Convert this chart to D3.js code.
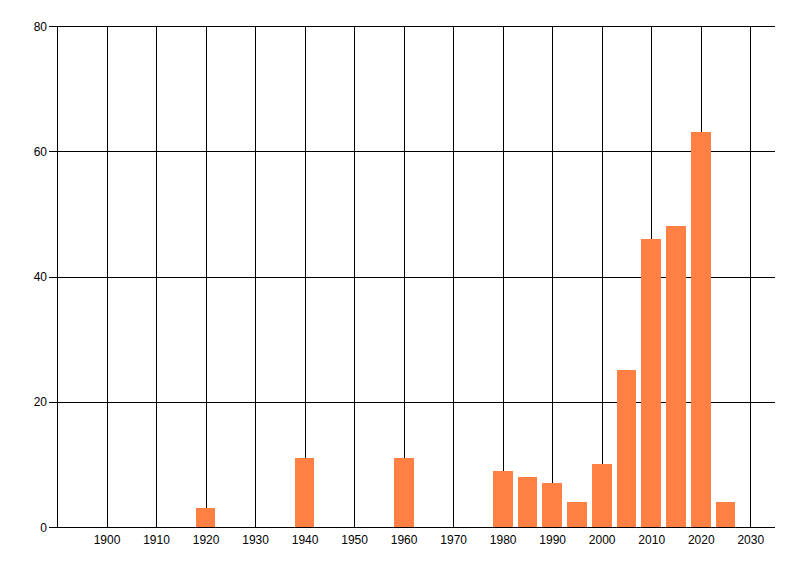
<!DOCTYPE html>
<html>
<head>
<meta charset="utf-8">
<script src="https://cdn.jsdelivr.net/npm/d3@7/dist/d3.min.js"></script>
<style>
  html, body { margin: 0; padding: 0; background: #fff; }
  svg text { font-family: "Liberation Sans", Arial, sans-serif; font-size: 12px; fill: #000; }
  svg line, svg rect { shape-rendering: crispEdges; }
</style>
</head>
<body>
<div id="chart"></div>
<script>
// bar data: year and count
const years  = [1920, 1940, 1960, 1980, 1985, 1990, 1995, 2000, 2005, 2010, 2015, 2020, 2025];
const counts = [3, 11, 11, 9, 8, 7, 4, 10, 25, 46, 48, 63, 4];

const xTicks = [1900, 1910, 1920, 1930, 1940, 1950, 1960, 1970, 1980, 1990, 2000, 2010, 2020, 2030];
const yTicks = [0, 20, 40, 60, 80];

const width = 800, height = 576;
const plotLeft = 57, plotRight = 775, plotTop = 26, plotBottom = 527;
const barYears = 4;

const svg = d3.select("#chart").append("svg")
  .attr("width", width)
  .attr("height", height);

const x = d3.scaleLinear().domain([1890, 2035]).range([plotLeft, plotRight]);
const y = d3.scaleLinear().domain([0, 80]).range([plotBottom, plotTop]);

// horizontal grid + left ticks
const yAxis = svg.append("g")
  .attr("transform", `translate(${plotLeft},0)`)
  .call(d3.axisLeft(y).tickValues(yTicks).tickSize(-(plotRight - plotLeft)).tickSizeOuter(0));
yAxis.select(".domain").remove();
yAxis.selectAll(".tick line")
  .attr("x1", -8)
  .attr("stroke", "#000");
yAxis.selectAll(".tick text").attr("x", -10).attr("dy", "0.35em");

// vertical grid
const xAxis = svg.append("g")
  .attr("transform", `translate(0,${plotBottom})`)
  .call(d3.axisBottom(x).tickValues(xTicks).tickFormat(d3.format("d")).tickSize(-(plotBottom - plotTop)).tickSizeOuter(0));
xAxis.select(".domain").remove();
xAxis.selectAll(".tick line").attr("stroke", "#000");
xAxis.selectAll(".tick text").attr("y", 8).attr("dy", "0.71em");

// left axis line
svg.append("line")
  .attr("x1", plotLeft + 0.5).attr("x2", plotLeft + 0.5)
  .attr("y1", plotTop).attr("y2", plotBottom)
  .attr("stroke", "#000");

// bars
svg.append("g").selectAll("rect")
  .data(years)
  .join("rect")
  .attr("x", (d) => x(d - barYears / 2))
  .attr("width", (d) => x(d + barYears / 2) - x(d - barYears / 2))
  .attr("y", (d, i) => y(counts[i]))
  .attr("height", (d, i) => y(0) - y(counts[i]))
  .attr("fill", "#ff8042");

// baseline over bars
svg.append("line")
  .attr("x1", plotLeft - 8).attr("x2", plotRight)
  .attr("y1", plotBottom + 0.5).attr("y2", plotBottom + 0.5)
  .attr("stroke", "#000");
</script>
</body>
</html>
